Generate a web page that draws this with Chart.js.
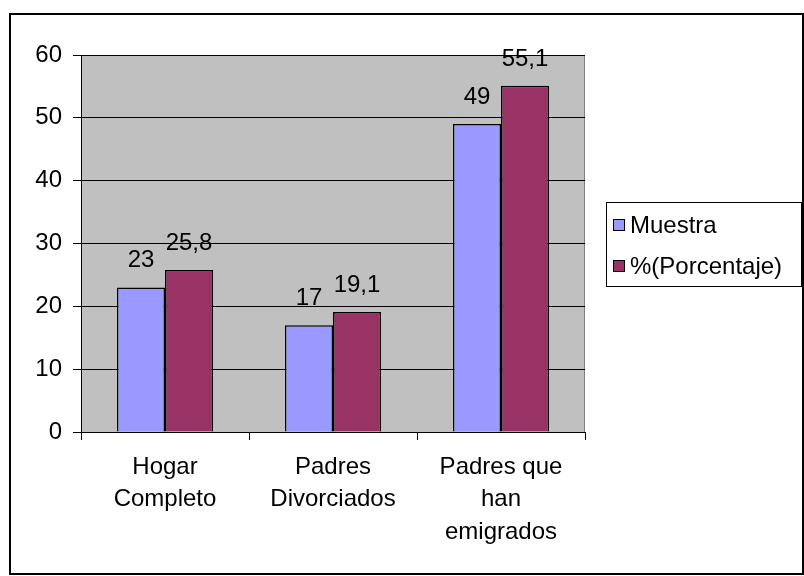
<!DOCTYPE html>
<html>
<head>
<meta charset="utf-8">
<script src="https://cdn.jsdelivr.net/npm/chart.js@4.4.0/dist/chart.umd.min.js"></script>
<style>
  html, body { margin: 0; padding: 0; background: #fff; }
  #wrap { width: 804px; height: 576px; }
</style>
</head>
<body>
<div id="wrap"><canvas id="chart" width="804" height="576"></canvas></div>
<script>
const categories = [['Hogar', 'Completo'], ['Padres', 'Divorciados'], ['Padres que', 'han', 'emigrados']]
const muestra = [23, 17, 49]
const porcentaje = [25.8, 19.1, 55.1]
const seriesNames = ['Muestra', '%(Porcentaje)']
const yTicks = [0, 10, 20, 30, 40, 50, 60]

const FONT = "'Liberation Sans', Arial, sans-serif"
const FS = 24

// gray plot background, outer frame and the boxed legend
const decor = {
  id: 'decor',
  beforeDraw(chart) {
    const { ctx, chartArea: a } = chart
    ctx.save()
    ctx.fillStyle = '#fff'
    ctx.fillRect(0, 0, chart.width, chart.height)
    ctx.fillStyle = '#C0C0C0'
    ctx.fillRect(a.left, a.top, a.right - a.left, a.bottom - a.top)
    ctx.strokeStyle = '#808080'
    ctx.lineWidth = 1
    ctx.strokeRect(a.left + 0.5, a.top + 0.5, a.right - a.left - 1, a.bottom - a.top)
    ctx.restore()
  },
  afterDraw(chart) {
    const { ctx } = chart
    ctx.save()
    ctx.strokeStyle = '#000'
    ctx.lineWidth = 2
    ctx.strokeRect(10, 14, 793, 560)
    // legend
    ctx.lineWidth = 1
    ctx.strokeRect(606.5, 202.5, 195, 84)
    ctx.font = FS + 'px ' + FONT
    ctx.textBaseline = 'middle'
    ctx.textAlign = 'left'
    const rows = [225, 266]
    chart.data.datasets.forEach((ds, i) => {
      ctx.fillStyle = ds.backgroundColor
      ctx.fillRect(613, rows[i] - 6, 12, 12)
      ctx.strokeStyle = '#000'
      ctx.strokeRect(613.5, rows[i] - 5.5, 11, 11)
      ctx.fillStyle = '#000'
      ctx.fillText(ds.label, 630, rows[i] + 1)
    })
    ctx.restore()
  },
  afterDatasetsDraw(chart) {
    const { ctx } = chart
    ctx.save()
    ctx.font = FS + 'px ' + FONT
    ctx.fillStyle = '#000'
    ctx.textAlign = 'center'
    ctx.textBaseline = 'alphabetic'
    chart.data.datasets.forEach((ds, i) => {
      chart.getDatasetMeta(i).data.forEach((bar, j) => {
        const txt = String(ds.data[j]).replace('.', ',')
        ctx.fillText(txt, bar.x, bar.y - 20)
      })
    })
    ctx.restore()
  }
}

new Chart(document.getElementById('chart'), {
  type: 'bar',
  plugins: [decor],
  data: {
    labels: categories,
    datasets: [
      { label: seriesNames[0], data: muestra, backgroundColor: '#9999FF', borderColor: '#000', borderWidth: 1.5 },
      { label: seriesNames[1], data: porcentaje, backgroundColor: '#993366', borderColor: '#000', borderWidth: 1.5 }
    ]
  },
  options: {
    responsive: false,
    animation: false,
    layout: { padding: { top: 55, right: 219, left: 0, bottom: 0 } },
    plugins: { legend: { display: false }, tooltip: { enabled: false } },
    datasets: { bar: { categoryPercentage: 0.572, barPercentage: 1 } },
    scales: {
      x: {
        offset: true,
        afterFit(s) { s.height = 144 },
        grid: { offset: true, drawOnChartArea: false, drawTicks: true, tickLength: 8, color: '#000' },
        border: { display: true, color: '#000', width: 1 },
        ticks: { color: '#000', padding: 11, maxRotation: 0, font: { family: FONT, size: FS, lineHeight: 1.35 } }
      },
      y: {
        min: 0, max: 60,
        afterFit(s) { s.width = 81 },
        afterBuildTicks(s) { s.ticks = yTicks.map(v => ({ value: v })) },
        grid: { color: '#000', lineWidth: 1, tickLength: 8, drawTicks: true },
        border: { display: true, color: '#000', width: 1 },
        ticks: { color: '#000', padding: 11, font: { family: FONT, size: FS } }
      }
    }
  }
})
</script>
</body>
</html>
